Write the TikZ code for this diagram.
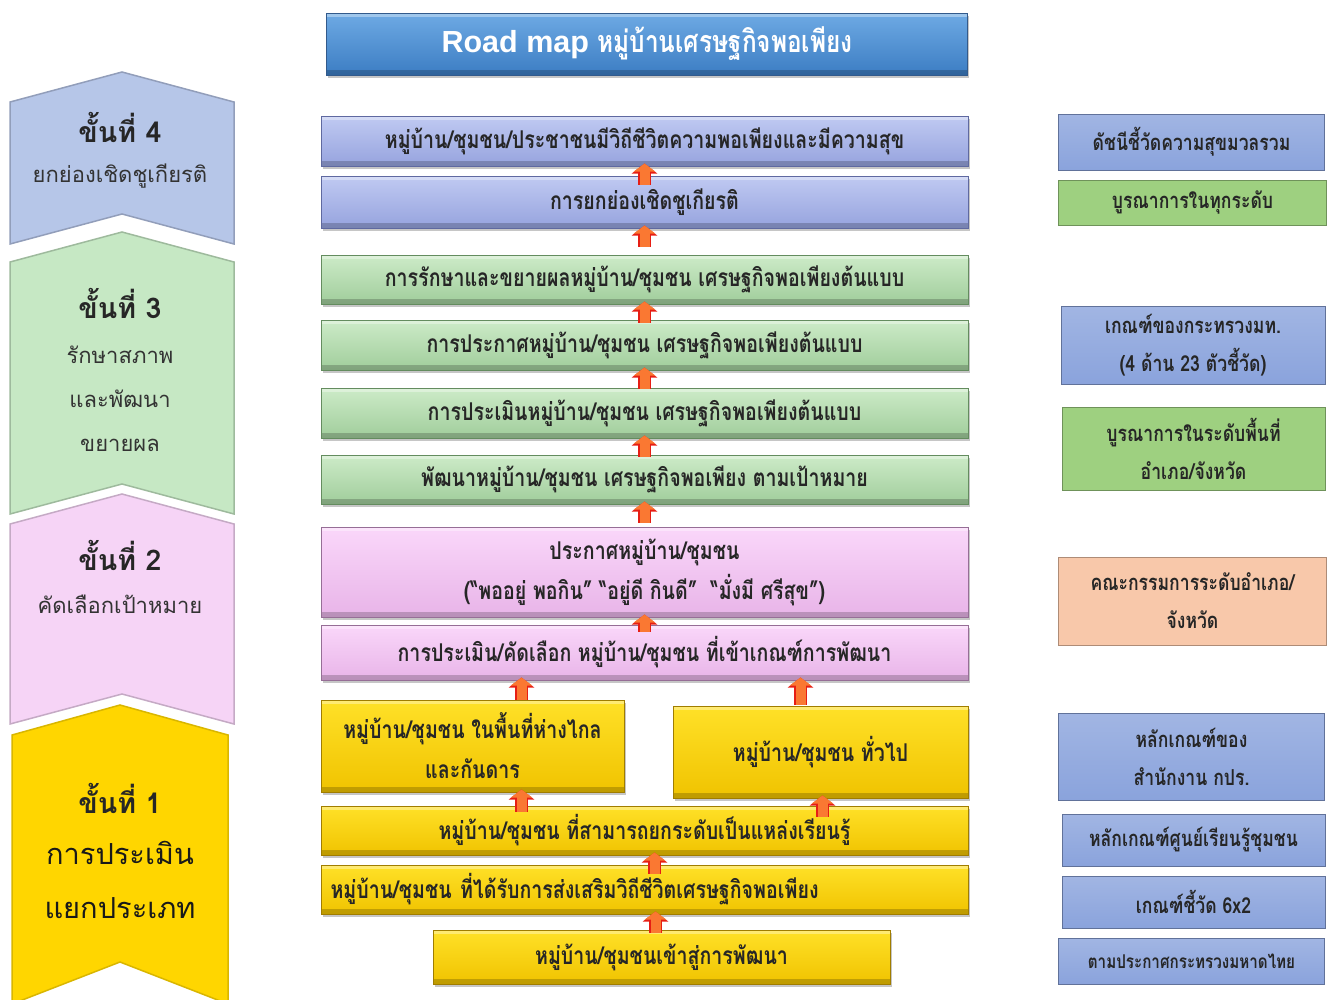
\documentclass[tikz,border=0pt]{standalone}
\usepackage{fontspec}
\setmainfont{Liberation Sans}
\newfontfamily\thaifont[Script=Thai]{Loma}
\newfontfamily\thaicond[Script=Thai,FakeStretch=0.8]{Loma}
\usetikzlibrary{arrows.meta,shadows}

\definecolor{titletop}{RGB}{110,170,228}
\definecolor{titlebot}{RGB}{60,125,195}
\definecolor{titleedge}{RGB}{50,90,140}
\definecolor{lavtop}{RGB}{192,202,242}
\definecolor{lavbot}{RGB}{150,163,222}
\definecolor{laveedge}{RGB}{95,105,160}
\definecolor{grntop}{RGB}{205,235,200}
\definecolor{grnbot}{RGB}{160,205,155}
\definecolor{grnedge}{RGB}{100,140,95}
\definecolor{pnktop}{RGB}{250,215,250}
\definecolor{pnkbot}{RGB}{232,180,232}
\definecolor{pnkedge}{RGB}{150,110,150}
\definecolor{ylwtop}{RGB}{255,225,40}
\definecolor{ylwbot}{RGB}{240,195,0}
\definecolor{ylwedge}{RGB}{160,125,0}
\definecolor{sideblue}{RGB}{138,163,220}
\definecolor{sidegreen}{RGB}{158,208,128}
\definecolor{sideorange}{RGB}{248,200,170}
\definecolor{chevblue}{RGB}{182,198,232}
\definecolor{chevgreen}{RGB}{198,232,196}
\definecolor{chevpink}{RGB}{246,212,246}
\definecolor{chevyellow}{RGB}{255,214,0}
\definecolor{arroworange}{RGB}{250,120,50}
\definecolor{arrowred}{RGB}{230,30,20}

\begin{document}
\begin{tikzpicture}[x=1pt,y=-1pt,
    roadbox/.style={minimum width=647pt, inner sep=2pt, align=center, line width=1pt,
      font=\thaicond\bfseries\fontsize{24.5}{40}\selectfont, text=black!85,
      drop shadow={shadow xshift=1.5pt, shadow yshift=-2.5pt, opacity=0.45},
      path picture={
        \fill[black, opacity=0.2] (path picture bounding box.south west)
          rectangle ([yshift=5pt]path picture bounding box.south east);
        \fill[white, opacity=0.35] (path picture bounding box.north west)
          rectangle ([yshift=-4pt]path picture bounding box.north east);}},
    lavbox/.style={roadbox, draw=laveedge, top color=lavtop, bottom color=lavbot},
    grnbox/.style={roadbox, draw=grnedge, top color=grntop, bottom color=grnbot},
    pnkbox/.style={roadbox, draw=pnkedge, top color=pnktop, bottom color=pnkbot},
    ylwbox/.style={roadbox, draw=ylwedge, top color=ylwtop, bottom color=ylwbot},
    sidebox/.style={minimum width=266pt, inner sep=2pt, align=center, line width=0.8pt,
      font=\thaicond\bfseries\fontsize{22}{38}\selectfont, text=black!85},
    chevhead/.style={font=\thaifont\bfseries\fontsize{28.5}{30}\selectfont, text=black!85},
    chevtext/.style={font=\thaifont\fontsize{22}{44}\selectfont, text=black!80, align=center},
    uparrow/.style={line width=10pt, draw=arroworange, shorten <=#1, shorten >=-3pt,
      -{Triangle[width=21pt,length=8pt]},
      preaction={draw=arrowred, line width=12.5pt, shorten <=#1, shorten >=-3pt,
        -{Triangle[width=25pt,length=10pt]}}},
    uparrow/.default=-4pt]
\useasboundingbox (0,0) rectangle (1328,999);

% stages on the left
\draw[chevblue!80!black, fill=chevblue, line width=1.5pt]
  (10,102) -- (122,72) -- (234,102) -- (234,244) -- (122,214) -- (10,244) -- cycle;
\draw[chevgreen!80!black, fill=chevgreen, line width=1.5pt]
  (10,262) -- (122,232) -- (234,262) -- (234,514) -- (122,484) -- (10,514) -- cycle;
\draw[chevpink!80!black, fill=chevpink, line width=1.5pt]
  (10,524) -- (122,494) -- (234,524) -- (234,724) -- (122,694) -- (10,724) -- cycle;
\draw[chevyellow!85!black, fill=chevyellow, line width=1.5pt]
  (12,735) -- (120,705) -- (228,735) -- (228,1004) -- (120,962) -- (12,1004) -- cycle;

\node[chevhead] (s4head) at (120,127) {ขั้นที่ 4};
\node[chevtext] (s4text) at (120,176) {ยกย่องเชิดชูเกียรติ};
\node[chevhead] (s3head) at (120,303) {ขั้นที่ 3};
\node[chevtext] (s3text) at (120,399) {รักษาสภาพ\\และพัฒนา\\ขยายผล};
\node[chevhead] (s2head) at (120,555) {ขั้นที่ 2};
\node[chevtext] (s2text) at (120,604) {คัดเลือกเป้าหมาย};
\node[chevhead] (s1head) at (120,798) {ขั้นที่ 1};
\node[chevtext, font=\thaifont\fontsize{29}{54}\selectfont, text=black!90] (s1text) at (120,880)
  {การประเมิน\\แยกประเภท};

% title
\node[roadbox, draw=titleedge, top color=titletop, bottom color=titlebot, minimum width=641pt,
  minimum height=62pt, text=white, font=\bfseries\fontsize{30.5}{34}\selectfont] (title) at (647,44)
  {Road map {\thaicond\bfseries หมู่บ้านเศรษฐกิจพอเพียง}};

% road map boxes
\node[lavbox, minimum height=50pt] (happy) at (644.5,141)
  {หมู่บ้าน/ชุมชน/ประชาชนมีวิถีชีวิตความพอเพียงและมีความสุข};
\node[lavbox, minimum height=52pt] (honour) at (644.5,202) {การยกย่องเชิดชูเกียรติ};
\node[grnbox, minimum height=49pt] (keep) at (644.5,279.5)
  {การรักษาและขยายผลหมู่บ้าน/ชุมชน เศรษฐกิจพอเพียงต้นแบบ};
\node[grnbox, minimum height=50pt] (announce) at (644.5,345)
  {การประกาศหมู่บ้าน/ชุมชน เศรษฐกิจพอเพียงต้นแบบ};
\node[grnbox, minimum height=50pt] (assess) at (644.5,413)
  {การประเมินหมู่บ้าน/ชุมชน เศรษฐกิจพอเพียงต้นแบบ};
\node[grnbox, minimum height=49pt] (develop) at (644.5,479.5)
  {พัฒนาหมู่บ้าน/ชุมชน เศรษฐกิจพอเพียง ตามเป้าหมาย};
\node[pnkbox, minimum height=90pt] (declare) at (644.5,572)
  {ประกาศหมู่บ้าน/ชุมชน\\(“พออยู่ พอกิน” “อยู่ดี กินดี”~ “มั่งมี ศรีสุข”)};
\node[pnkbox, minimum height=55pt] (select) at (644.5,652.5)
  {การประเมิน/คัดเลือก หมู่บ้าน/ชุมชน ที่เข้าเกณฑ์การพัฒนา};
\node[ylwbox, minimum width=303pt, minimum height=92pt] (remote) at (472.5,746)
  {หมู่บ้าน/ชุมชน ในพื้นที่ห่างไกล\\และกันดาร};
\node[ylwbox, minimum width=295pt, minimum height=92pt] (general) at (820.5,752)
  {หมู่บ้าน/ชุมชน ทั่วไป};
\node[ylwbox, minimum height=49pt] (learn) at (644.5,830.5)
  {หมู่บ้าน/ชุมชน ที่สามารถยกระดับเป็นแหล่งเรียนรู้};
\node[ylwbox, minimum height=49pt, text width=628pt, align=left] (promote) at (644.5,889.5)
  {หมู่บ้าน/ชุมชน ที่ได้รับการส่งเสริมวิถีชีวิตเศรษฐกิจพอเพียง};
\node[ylwbox, minimum width=457pt, minimum height=54pt] (enter) at (661.5,957)
  {หมู่บ้าน/ชุมชนเข้าสู่การพัฒนา};

% arrows between the steps
\draw[uparrow=-9pt] (honour.north) -- (happy.south);
\draw[uparrow=8pt] (keep.north) -- (honour.south);
\draw[uparrow=-3pt] (announce.north) -- (keep.south);
\draw[uparrow=-1pt] (assess.north) -- (announce.south);
\draw[uparrow=-2pt] (develop.north) -- (assess.south);
\draw[uparrow=4pt] (declare.north) -- (develop.south);
\draw[uparrow=-7pt] (select.north) -- (declare.south);
\draw[uparrow=0pt] ([xshift=49pt]remote.north) -- ([xshift=49pt]remote.north |- select.south);
\draw[uparrow=1pt] ([xshift=-20pt]general.north) -- ([xshift=-20pt]general.north |- select.south);
\draw[uparrow=-6pt] ([xshift=49pt]remote.south |- learn.north) -- ([xshift=49pt]remote.south);
\draw[uparrow=-11pt] ([xshift=2pt]general.south |- learn.north) -- ([xshift=2pt]general.south);
\draw[uparrow=-9pt] ([xshift=10pt]promote.north) -- ([xshift=10pt]learn.south);
\draw[uparrow=-3pt] ([xshift=-6pt]enter.north) -- ([xshift=-6pt]enter.north |- promote.south);

% criteria on the right
\node[sidebox, draw=sideblue!70!black, top color=sideblue!80!white, bottom color=sideblue,
  minimum height=56pt] (gnh) at (1191.5,142) {ดัชนีชี้วัดความสุขมวลรวม};
\node[sidebox, draw=sidegreen!70!black, fill=sidegreen, minimum width=268pt,
  minimum height=45pt] (integall) at (1192.5,202.5) {บูรณาการในทุกระดับ};
\node[sidebox, draw=sideblue!70!black, top color=sideblue!80!white, bottom color=sideblue,
  minimum width=264pt, minimum height=78pt] (mtcrit) at (1193,345)
  {เกณฑ์ของกระทรวงมท.\\(4 ด้าน 23 ตัวชี้วัด)};
\node[sidebox, draw=sidegreen!70!black, fill=sidegreen, minimum width=263pt,
  minimum height=83pt] (integarea) at (1193.5,448.5) {บูรณาการในระดับพื้นที่\\อำเภอ/จังหวัด};
\node[sidebox, draw=sideorange!70!black, fill=sideorange, minimum width=268pt,
  minimum height=88pt] (committee) at (1192.5,601) {คณะกรรมการระดับอำเภอ/\\จังหวัด};
\node[sidebox, draw=sideblue!70!black, top color=sideblue!80!white, bottom color=sideblue,
  minimum height=87pt] (gpr) at (1191.5,756.5) {หลักเกณฑ์ของ\\สำนักงาน กปร.};
\node[sidebox, draw=sideblue!70!black, top color=sideblue!80!white, bottom color=sideblue,
  minimum width=263pt, minimum height=52pt] (lcentre) at (1193.5,840) {หลักเกณฑ์ศูนย์เรียนรู้ชุมชน};
\node[sidebox, draw=sideblue!70!black, top color=sideblue!80!white, bottom color=sideblue,
  minimum width=263pt, minimum height=52pt] (sixtwo) at (1193.5,902) {เกณฑ์ชี้วัด 6x2};
\node[sidebox, draw=sideblue!70!black, top color=sideblue!80!white, bottom color=sideblue,
  minimum height=46pt, font=\thaicond\bfseries\fontsize{19}{30}\selectfont] (moi) at (1191.5,961)
  {ตามประกาศกระทรวงมหาดไทย};
\end{tikzpicture}
\end{document}
